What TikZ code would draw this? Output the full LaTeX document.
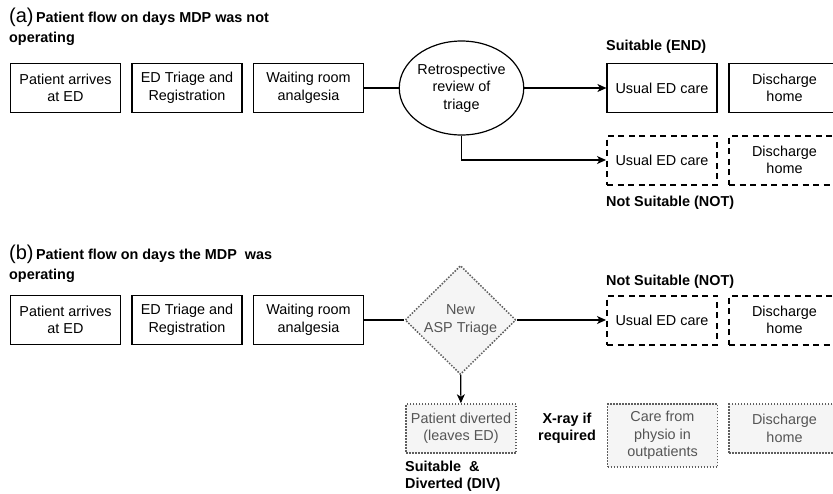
\documentclass[tikz,border=0pt]{standalone}
\usepackage{fontspec}
\setmainfont{Liberation Sans}
\usepackage{tikz}
\usetikzlibrary{shapes,arrows.meta,positioning}
\definecolor{divfill}{HTML}{F5F5F5}
\definecolor{divgray}{HTML}{5E5E5E}
\definecolor{divtext}{HTML}{555555}
\begin{document}
\begin{tikzpicture}[x=1pt, y=-1pt, node distance = 121.5pt, auto]
        \tikzstyle{block} = [rectangle, draw, line width=1.2pt, align=center, minimum width=110pt, minimum height=49pt, inner sep=2pt, font=\fontsize{14.4}{17.5}\selectfont]
        \tikzstyle{notblock} = [block, line width=2pt, dash pattern=on 6pt off 4.5pt]
        \tikzstyle{divblock} = [block, draw=divgray, text=divtext, fill=divfill, line width=1.5pt, dash pattern=on 1.5pt off 1.5pt]
        \tikzstyle{review} = [ellipse, draw, line width=1.2pt, align=center, minimum width=123pt, minimum height=94pt, inner sep=0pt, font=\fontsize{14.4}{17.5}\selectfont]
        \tikzstyle{decision} = [diamond, draw=divgray, text=divtext, fill=divfill, line width=1.5pt, dash pattern=on 1.5pt off 1.5pt, align=center, minimum width=111pt, minimum height=109pt, inner sep=0pt, font=\fontsize{14.4}{17.5}\selectfont]
        \tikzstyle{title} = [align=left, inner sep=0pt, font=\fontsize{14.4}{20}\selectfont\bfseries]
        \tikzstyle{tag} = [align=left, inner sep=0pt, font=\fontsize{14.4}{17.5}\selectfont\bfseries]
        \tikzstyle{line} = [draw, line width=1.2pt, -{Stealth[length=9pt, width=8pt, inset=2.5pt]}]

    \clip (0,0) rectangle (833,493);

    % (a) MDP not operating
    \node [title, anchor=north west] (title_a) at (9,8) {{\fontsize{20}{20}\mdseries\selectfont(a)}\,Patient flow on days MDP was not\\operating};
    \node [block] (arrives_a) at (65.5,88) {Patient arrives\\at ED};
    \node [block, right of=arrives_a] (triage_a) {ED Triage and\\Registration};
    \node [block, right of=triage_a] (waiting_a) {Waiting room\\analgesia};
    \node [review] (retro) at (461.5,88) {Retrospective\\review of\\triage};
    \node [block] (end_care) at (662,88) {Usual ED care};
    \node [block, minimum width=111pt, right of=end_care, node distance=122.5pt] (end_home) {Discharge\\home};
    \node [notblock] (not_care_a) at (662,160) {Usual ED care};
    \node [notblock, minimum width=111pt, right of=not_care_a, node distance=122.5pt] (not_home_a) {Discharge\\home};

    \node [tag, anchor=west] (end_tag) at (606,47) {Suitable (END)};
    \node [tag, anchor=west] (not_tag_a) at (606,203) {Not Suitable (NOT)};

    \path [draw, line width=1.2pt] (waiting_a) -- (retro);
    \path [line] (retro) -- (end_care);
    \path [line] (retro.south) |- (not_care_a.west);

    % (b) MDP operating
    \node [title, anchor=north west] (title_b) at (9,245) {{\fontsize{20}{20}\mdseries\selectfont(b)}\,Patient flow on days the MDP\ \ was\\operating};
    \node [block] (arrives_b) at (65.5,320) {Patient arrives\\at ED};
    \node [block, right of=arrives_b] (triage_b) {ED Triage and\\Registration};
    \node [block, right of=triage_b] (waiting_b) {Waiting room\\analgesia};
    \node [decision] (asp) at (460.5,320) {New\\ASP Triage};
    \node [notblock] (not_care_b) at (662,320) {Usual ED care};
    \node [notblock, minimum width=111pt, right of=not_care_b, node distance=122.5pt] (not_home_b) {Discharge\\home};
    \node [divblock] (diverted) at (461,428.5) {Patient diverted\\(leaves ED)};
    \node [divblock, minimum height=63pt] (physio) at (662.5,435.5) {Care from\\physio in\\outpatients};
    \node [divblock, minimum width=111pt] (div_home) at (784.5,428.5) {Discharge\\home};

    \node [tag, anchor=west] (not_tag_b) at (606,282) {Not Suitable (NOT)};
    \node [tag, align=center] (xray) at (567,428.5) {X-ray if\\required};
    \node [tag, anchor=west] (div_tag) at (405,476.5) {Suitable\ \ \&\\Diverted (DIV)};

    \path [draw, line width=1.2pt] (waiting_b) -- (asp);
    \path [line] (asp) -- (not_care_b);
    \path [line] (asp) -- (diverted);

\end{tikzpicture}
\end{document}
